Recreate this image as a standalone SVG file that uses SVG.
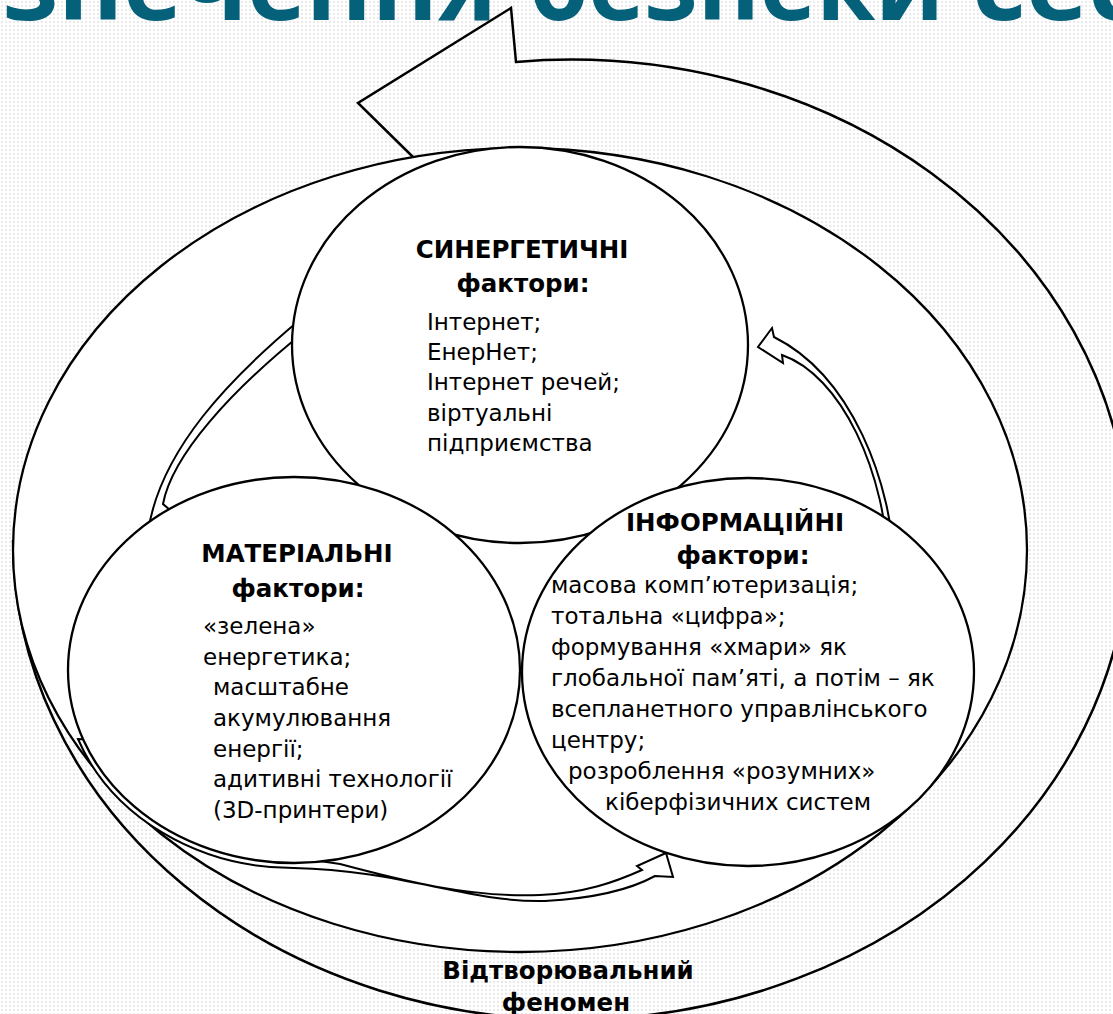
<svg xmlns="http://www.w3.org/2000/svg" width="1113" height="1014" viewBox="0 0 1113 1014">
<defs>
<pattern id="dots" width="4" height="4" patternUnits="userSpaceOnUse">
<rect width="4" height="4" fill="#ffffff"/>
<circle cx="2" cy="2" r="1" fill="#e4e4e4"/>
</pattern>
<style>
.ln{fill:none;stroke:#000;stroke-width:2.5;stroke-linejoin:miter}
.shape{fill:#fff;stroke:#000;stroke-width:2.3}
.arr{fill:#fff;stroke:#000;stroke-width:2;stroke-linejoin:miter}
.t{font-family:"DejaVu Sans","Verdana",sans-serif;font-size:23px;fill:#000}
.b{font-family:"DejaVu Sans","Verdana",sans-serif;font-size:24.5px;font-weight:bold;fill:#000}
.title{font-family:"Open Sans","DejaVu Sans",sans-serif;font-size:100px;font-weight:bold;fill:#05607a}
</style>
</defs>
<rect width="1113" height="1014" fill="url(#dots)"/>
<g id="title">
<text class="title" x="3" y="20" textLength="494" lengthAdjust="spacingAndGlyphs">зпечення</text>
<text class="title" x="529" y="20" textLength="415" lengthAdjust="spacingAndGlyphs">безпеки</text>
<text class="title" x="972" y="20" textLength="170" lengthAdjust="spacingAndGlyphs">сес</text>
</g>
<g id="reproduction-phenomenon">
<path class="ln" d="M 13 540 A 558 480 0 1 0 516 62 L 511 8 L 358 103 L 413 157"/>
<ellipse class="shape" cx="520" cy="550" rx="507" ry="402" stroke-width="2.5"/>
<text class="b" x="568" y="979" text-anchor="middle">Відтворювальний</text>
<text class="b" x="566" y="1011" text-anchor="middle">феномен</text>
</g>
<g id="connectors">
<path class="arr" d="M 895 575 C 893 480, 850 375, 774 337 L 772 328 L 758 347 L 783 363 L 782 355 C 840 375, 887 470, 889 575 Z"/>
<path class="arr" d="M 302 318 C 230 378, 160 450, 148 532 L 138 540 L 156 575 L 177 516 L 163 504 C 172 455, 232 390, 304 332 Z"/>
<path class="arr" d="M 78 739 A 230 198 0 0 0 294 868 C 400 870, 470 903, 545 901 C 600 898, 635 887, 655 876 L 673 877 L 666 853 L 637 866 L 642 870 C 615 882, 585 893, 540 895 C 470 898, 400 880, 340 864 L 300 858 L 100 740 Z"/>
</g>
<g id="synergetic">
<ellipse class="shape" cx="520" cy="345" rx="228" ry="198"/>
<text class="b" x="522" y="258" text-anchor="middle">СИНЕРГЕТИЧНІ</text>
<text class="b" x="523" y="292" text-anchor="middle">фактори:</text>
<text class="t" x="427" y="330">Інтернет;</text>
<text class="t" x="427" y="360">ЕнерНет;</text>
<text class="t" x="427" y="390">Інтернет речей;</text>
<text class="t" x="427" y="421">віртуальні</text>
<text class="t" x="427" y="451">підприємства</text>
</g>
<g id="material">
<ellipse class="shape" cx="294" cy="670" rx="226" ry="193"/>
<text class="b" x="297" y="562" text-anchor="middle">МАТЕРІАЛЬНІ</text>
<text class="b" x="298" y="597" text-anchor="middle">фактори:</text>
<text class="t" x="203" y="634">«зелена»</text>
<text class="t" x="203" y="665">енергетика;</text>
<text class="t" x="213" y="695">масштабне</text>
<text class="t" x="213" y="726">акумулювання</text>
<text class="t" x="213" y="757">енергії;</text>
<text class="t" x="213" y="787">адитивні технології</text>
<text class="t" x="213" y="818">(3D-принтери)</text>
</g>
<g id="information">
<ellipse class="shape" cx="748" cy="672" rx="226" ry="194"/>
<text class="b" x="735" y="531" text-anchor="middle">ІНФОРМАЦІЙНІ</text>
<text class="b" x="743" y="564" text-anchor="middle">фактори:</text>
<text class="t" x="551" y="593">масова комп’ютеризація;</text>
<text class="t" x="551" y="624">тотальна «цифра»;</text>
<text class="t" x="551" y="655">формування «хмари» як</text>
<text class="t" x="551" y="686">глобальної пам’яті, а потім – як</text>
<text class="t" x="551" y="717">всепланетного управлінського</text>
<text class="t" x="551" y="748">центру;</text>
<text class="t" x="568" y="779">розроблення «розумних»</text>
<text class="t" x="605" y="810">кіберфізичних систем</text>
</g>
</svg>
